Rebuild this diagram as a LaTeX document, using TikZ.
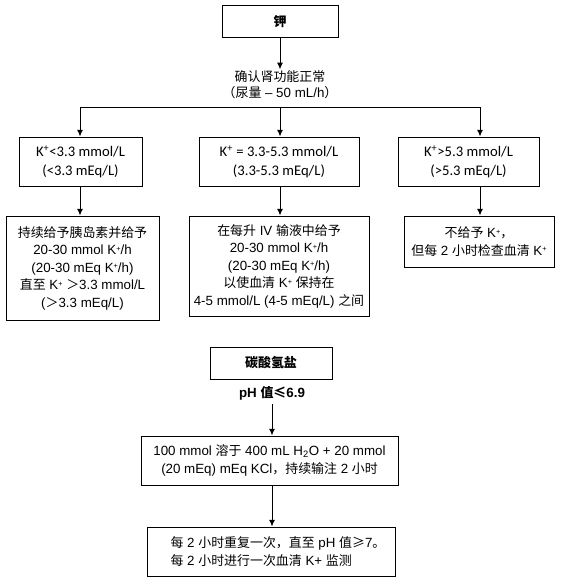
\documentclass[tikz,border=0pt]{standalone}
\usepackage{fontspec}
\setmainfont{Liberation Sans}
\newfontfamily\cjk[Scale=0.97]{Noto Sans CJK SC}
\newfontfamily\cali{Carlito}
\usetikzlibrary{arrows.meta}
\newcommand\zh[1]{{\cjk #1}}
\newcommand\Kp{K\textsuperscript{+}}
\newcommand\Ks{K\raisebox{0.5ex}{\fontsize{5.5}{6}\selectfont +}}
\tikzset{
  box/.style={draw, line width=0.75pt, inner sep=0pt, align=center},
  txt/.style={inner sep=1pt, align=center},
  arr/.style={-{Latex[length=5pt,width=4.5pt]}, line width=0.75pt},
  ln/.style={line width=0.75pt},
  arial/.style={font=\fontsize{10}{13.1}\selectfont},
  calib/.style={font=\cali\fontsize{11}{13.9}\selectfont},
}
\begin{document}
\begin{tikzpicture}[x=0.75pt,y=-0.75pt]
\useasboundingbox (0,0) rectangle (561,585);
% potassium part
\node[box, minimum width=116*0.75pt, minimum height=32*0.75pt, font=\bfseries] (A) at (280,22) {\zh{钾}};
\node[txt, font=\fontsize{10}{12}\selectfont] (chk) at (280,85) {\zh{确认肾功能正常}\\\zh{（尿量} – 50 mL/h\zh{）}};
\node[box, calib, minimum width=123*0.75pt, minimum height=49*0.75pt] (B1) at (80.5,161.5) {\Kp<3.3 mmol/L\\(<3.3 mEq/L)};
\node[box, calib, minimum width=160*0.75pt, minimum height=49*0.75pt] (B2) at (279,161.5) {\Kp{} = 3.3-5.3 mmol/L\\(3.3-5.3 mEq/L)};
\node[box, calib, minimum width=141*0.75pt, minimum height=49*0.75pt] (B3) at (468.5,161.5) {\Kp>5.3 mmol/L\\(>5.3 mEq/L)};
\node[box, arial, minimum width=153*0.75pt, minimum height=104*0.75pt] (C1) at (82.5,268) {\zh{持续给予胰岛素并给予}\\20-30 mmol \Ks/h\\(20-30 mEq \Ks/h)\\\zh{直至} \Ks{} \zh{＞}3.3 mmol/L\\(\zh{＞}3.3 mEq/L)};
\node[box, arial, minimum width=180*0.75pt, minimum height=100*0.75pt] (C2) at (279,266) {\zh{在每升} IV \zh{输液中给予}\\20-30 mmol \Ks/h\\(20-30 mEq \Ks/h)\\\zh{以使血清} \Ks{} \zh{保持在}\\4-5 mmol/L (4-5 mEq/L) \zh{之间}};
\node[box, arial, minimum width=150*0.75pt, minimum height=51*0.75pt] (C3) at (479,241.5) {\zh{不给予} \Ks\zh{，}\\\zh{但每} 2 \zh{小时检查血清} \Ks};
\coordinate (hl) at (80,107);
\coordinate (hm) at (280,107);
\coordinate (hr) at (480,107);
\draw[arr] (A.south -| hm) -- (chk.north -| hm);
\draw[ln] (hl) -- (hr);
\draw[arr] (hl) -- (hl |- B1.north);
\draw[arr] (hm) -- (hm |- B2.north);
\draw[arr] (hr) -- (hr |- B3.north);
\draw[arr] (hl |- B1.south) -- (hl |- C1.north);
\draw[arr] (hm |- B2.south) -- (hm |- C2.north);
\draw[arr] (hr |- B3.south) -- (hr |- C3.north);
% bicarbonate part
\node[box, minimum width=122*0.75pt, minimum height=32*0.75pt, font=\bfseries] (D) at (271,363) {\zh{碳酸氢盐}};
\node[txt, inner sep=3pt, font=\bfseries] (ph) at (272,393) {pH \zh{值≤}6.9};
\node[box, font=\fontsize{10}{13.5}\selectfont, minimum width=257*0.75pt, minimum height=49*0.75pt] (E) at (269.5,460.5) {100 mmol \zh{溶于} 400 mL H\textsubscript{2}O + 20 mmol\\(20 mEq) mEq KCl\zh{，持续输注} 2 \zh{小时}};
\node[box, align=left, font=\fontsize{10}{13.5}\selectfont, minimum width=248*0.75pt, minimum height=49*0.75pt] (F) at (271,551.5) {\hspace*{10.5pt}\zh{每} 2 \zh{小时重复一次，直至} pH \zh{值≥}7\zh{。}\\\hspace*{10.5pt}\zh{每} 2 \zh{小时进行一次血清} K+ \zh{监测}};
\draw[arr] (ph.south) -- (ph.south |- E.north);
\draw[arr] (ph |- E.south) -- (ph |- F.north);
\end{tikzpicture}
\end{document}
